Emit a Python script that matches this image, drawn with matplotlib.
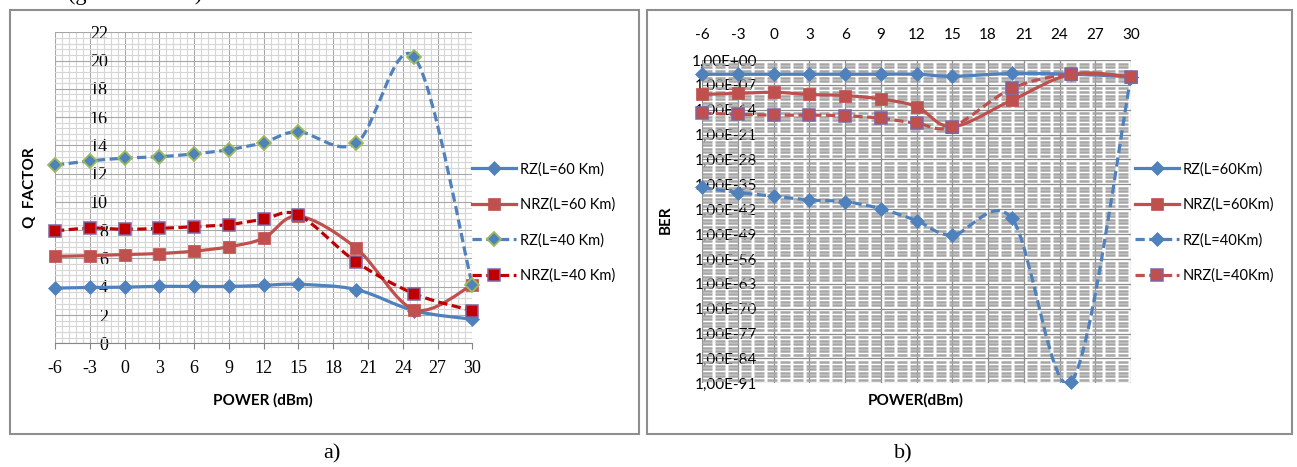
import numpy as np
import matplotlib
matplotlib.use("Agg")
import matplotlib.pyplot as plt
from matplotlib.path import Path
from matplotlib.patches import PathPatch, Rectangle
from matplotlib.lines import Line2D
from matplotlib.ticker import MultipleLocator, FixedLocator, FuncFormatter, NullFormatter

plt.rcParams["axes.unicode_minus"] = False

# ---------------- data ----------------
power = [-6, -3, 0, 3, 6, 9, 12, 15, 20, 25, 30]

# Q factor (panel a)
q_rz60 = [3.90, 3.95, 3.97, 4.03, 4.02, 4.02, 4.10, 4.17, 3.80, 2.30, 1.70]
q_nrz60 = [6.15, 6.20, 6.28, 6.35, 6.52, 6.83, 7.43, 9.00, 6.72, 2.38, 4.13]
q_rz40 = [12.60, 12.90, 13.10, 13.20, 13.40, 13.70, 14.20, 14.97, 14.15, 20.25, 4.12]
q_nrz40 = [7.95, 8.15, 8.07, 8.13, 8.25, 8.40, 8.77, 9.08, 5.75, 3.50, 2.30]

# BER (panel b)
ber_rz60 = [1e-4, 1e-4, 1e-4, 1e-4, 1e-4, 1e-4, 1e-4, 2.5e-5, 1.6e-4, 1e-4, 2e-5]
ber_nrz60 = [2e-10, 4e-10, 8e-10, 2e-10, 1e-10, 1e-11, 8e-14, 1.6e-19, 5e-12, 1e-4, 2e-5]
ber_rz40 = [1.3e-36, 5e-38, 5e-39, 4e-40, 1.3e-40, 1.3e-42, 6e-46, 5e-50, 2.5e-45, 3e-91, 2e-5]
ber_nrz40 = [1e-15, 5e-16, 3e-16, 3e-16, 2e-16, 4e-17, 1.6e-18, 1.6e-19, 1e-8, 1e-4, 2e-5]

labels_a = ["RZ(L=60 Km)", "NRZ(L=60 Km)", "RZ(L=40 Km)", "NRZ(L=40 Km)"]
labels_b = ["RZ(L=60Km)", "NRZ(L=60Km)", "RZ(L=40Km)", "NRZ(L=40Km)"]

# ---------------- styling ----------------
W, H = 1297, 467
DPI = 100
BLUE = "#4F81BD"
RED = "#C0504D"
DRED = "#C00000"
GREEN = "#9BBB59"
PURPLE = "#8064A2"
DASH = (0, (2.9, 1.4))
SANS = "Lato"
SERIF = "Liberation Serif"

fig = plt.figure(figsize=(W / DPI, H / DPI), dpi=DPI)
fig.patch.set_facecolor("white")


def px_rect(x0, y0, x1, y1):
    """Figure-fraction rectangle from pixel corners (top-left origin)."""
    return [x0 / W, 1 - y1 / H, (x1 - x0) / W, (y1 - y0) / H]


def smooth_path(xs, ys):
    """Cubic Bezier path through the points (Catmull-Rom style tangents)."""
    P = np.column_stack([xs, ys]).astype(float)
    n = len(P)
    verts = [P[0]]
    codes = [Path.MOVETO]
    for i in range(n - 1):
        pm = P[i - 1] if i > 0 else P[i]
        pp = P[i + 2] if i + 2 < n else P[i + 1]
        c1 = P[i] + (P[i + 1] - pm) / 6.0
        c2 = P[i + 1] - (pp - P[i]) / 6.0
        verts += [c1, c2, P[i + 1]]
        codes += [Path.CURVE4] * 3
    return np.array(verts), codes


def draw_series(ax, xs, ys, color, ls, lw, marker, ms, mfc, mec, mew, z, log=False):
    if log:
        verts, codes = smooth_path(xs, np.log10(ys))
        verts[:, 1] = 10.0 ** verts[:, 1]
    else:
        verts, codes = smooth_path(xs, ys)
    patch = PathPatch(Path(verts, codes), fill=False, edgecolor=color, lw=lw,
                      linestyle=ls, capstyle="butt", joinstyle="round", zorder=z)
    ax.add_patch(patch)
    ax.plot(xs, ys, linestyle="none", marker=marker, ms=ms, mfc=mfc, mec=mec,
            mew=mew, zorder=z + 0.05, clip_on=False)


def handle(color, ls, lw, marker, ms, mfc, mec, mew):
    return Line2D([], [], color=color, ls=ls, lw=lw, marker=marker, ms=ms,
                  mfc=mfc, mec=mec, mew=mew)


# panel frames
for x0, x1 in [(10, 639), (647, 1292)]:
    fig.add_artist(Rectangle((x0 / W, 1 - 434 / H), (x1 - x0) / W, 424 / H,
                             transform=fig.transFigure, fill=False,
                             edgecolor="#8E8E8E", lw=1.5))

# ---------------- panel a: Q factor ----------------
axL = fig.add_axes(px_rect(55, 32.3, 472.3, 343.3))
axL.set_xlim(-6, 30)
axL.set_ylim(0, 22)
axL.xaxis.set_major_locator(MultipleLocator(3))
axL.xaxis.set_minor_locator(MultipleLocator(0.6))
axL.yaxis.set_major_locator(MultipleLocator(2))
axL.yaxis.set_minor_locator(MultipleLocator(0.4))
axL.grid(which="major", color="#A6A6A6", lw=0.8)
axL.grid(which="minor", color="#D6D6D6", lw=0.8)
axL.set_axisbelow(True)
for s in ("top", "right", "left"):
    axL.spines[s].set_visible(False)
axL.spines["left"].set_position(("data", 0))
axL.spines["bottom"].set_color("#868686")
axL.tick_params(axis="y", which="both", length=0, pad=12, labelsize=13)
axL.tick_params(axis="x", which="major", length=4, color="#868686", pad=8, labelsize=13)
axL.tick_params(axis="x", which="minor", length=0)
for lbl in axL.get_xticklabels() + axL.get_yticklabels():
    lbl.set_fontfamily(SERIF)

lw_a = 2.3
draw_series(axL, power, q_rz60, BLUE, "-", lw_a, "D", 6.8, BLUE, BLUE, 0.5, 2.0)
draw_series(axL, power, q_nrz60, RED, "-", lw_a, "s", 9.0, RED, RED, 0.5, 2.2)
draw_series(axL, power, q_rz40, BLUE, DASH, lw_a, "D", 6.8, BLUE, GREEN, 1.3, 2.4)
draw_series(axL, power, q_nrz40, DRED, DASH, lw_a, "s", 8.6, DRED, PURPLE, 1.1, 2.6)

hL = [handle(BLUE, "-", lw_a, "D", 6.8, BLUE, BLUE, 0.5),
      handle(RED, "-", lw_a, "s", 9.0, RED, RED, 0.5),
      handle(BLUE, DASH, lw_a, "D", 6.8, BLUE, GREEN, 1.3),
      handle(DRED, DASH, lw_a, "s", 8.6, DRED, PURPLE, 1.1)]
fig.legend(hL, labels_a, loc="center left", bbox_to_anchor=(472 / W, 1 - 222.5 / H),
           frameon=False, borderpad=0, borderaxespad=0, handlelength=3.0,
           handletextpad=0.3, labelspacing=1.45, prop={"family": SANS, "size": 10.5})

fig.text(263 / W, 1 - 400 / H, "POWER (dBm)", ha="center", va="center",
         fontsize=11, fontweight="bold", family=SANS)
fig.text(30 / W, 1 - 188 / H, "Q  FACTOR", ha="center", va="center", rotation=90,
         fontsize=11, fontweight="bold", family=SANS)

# ---------------- panel b: BER ----------------
axR = fig.add_axes(px_rect(702.3, 60, 1131, 383.3))
axR.set_yscale("log")
axR.set_xlim(-6, 30)
axR.set_ylim(1e-91, 1)
axR.xaxis.set_major_locator(MultipleLocator(3))
axR.yaxis.set_major_locator(FixedLocator(10.0 ** np.arange(0, -92, -7)))
axR.yaxis.set_minor_locator(FixedLocator(10.0 ** np.arange(0, -92, -1)))


def ber_fmt(v, pos):
    e = int(round(np.log10(v)))
    return "1,00E%s%02d" % ("+" if e >= 0 else "-", abs(e))


axR.yaxis.set_major_formatter(FuncFormatter(ber_fmt))
axR.yaxis.set_minor_formatter(NullFormatter())
axR.grid(which="minor", axis="y", color="#A6A6A6", lw=1.8, linestyle=(0, (4, 1.2)))
axR.grid(which="major", axis="y", color="#8C8C8C", lw=0.9)
axR.grid(which="major", axis="x", color="#8C8C8C", lw=0.9)
axR.set_axisbelow(True)
for s in axR.spines.values():
    s.set_visible(False)
axR.spines["left"].set_position(("data", 0))
axR.xaxis.tick_top()
axR.tick_params(axis="x", which="both", length=0, pad=13, labelsize=11)
axR.tick_params(axis="y", which="both", length=0, pad=12, labelsize=11)
for lbl in axR.get_xticklabels() + axR.get_yticklabels():
    lbl.set_fontfamily(SANS)

lw_b = 2.3
draw_series(axR, power, ber_rz60, BLUE, "-", lw_b, "D", 7.0, BLUE, BLUE, 0.5, 2.0, log=True)
draw_series(axR, power, ber_nrz60, RED, "-", lw_b, "s", 9.0, RED, RED, 0.5, 2.2, log=True)
draw_series(axR, power, ber_rz40, BLUE, DASH, lw_b, "D", 7.0, BLUE, BLUE, 0.5, 2.4, log=True)
draw_series(axR, power, ber_nrz40, RED, DASH, lw_b, "s", 8.6, RED, PURPLE, 1.1, 2.6, log=True)

hR = [handle(BLUE, "-", lw_b, "D", 7.0, BLUE, BLUE, 0.5),
      handle(RED, "-", lw_b, "s", 9.0, RED, RED, 0.5),
      handle(BLUE, DASH, lw_b, "D", 7.0, BLUE, BLUE, 0.5),
      handle(RED, DASH, lw_b, "s", 8.6, RED, PURPLE, 1.1)]
fig.legend(hR, labels_b, loc="center left", bbox_to_anchor=(1135 / W, 1 - 222.5 / H),
           frameon=False, borderpad=0, borderaxespad=0, handlelength=3.0,
           handletextpad=0.3, labelspacing=1.45, prop={"family": SANS, "size": 10.5})

fig.text(916 / W, 1 - 400 / H, "POWER(dBm)", ha="center", va="center",
         fontsize=11, fontweight="bold", family=SANS)
fig.text(666 / W, 1 - 220 / H, "BER", ha="center", va="center", rotation=90,
         fontsize=11, fontweight="bold", family=SANS)

# captions and the line of running text above the panels
fig.text(332 / W, 1 - 454 / H, "a)", ha="center", va="center", fontsize=16, family=SERIF)
fig.text(903 / W, 1 - 454 / H, "b)", ha="center", va="center", fontsize=16, family=SERIF)
fig.text(68 / W, 1.0, "(gráficas 4 a 6)", ha="left", va="baseline",
         fontsize=16, family=SERIF)

fig.savefig("out.png", dpi=DPI, facecolor="white")
